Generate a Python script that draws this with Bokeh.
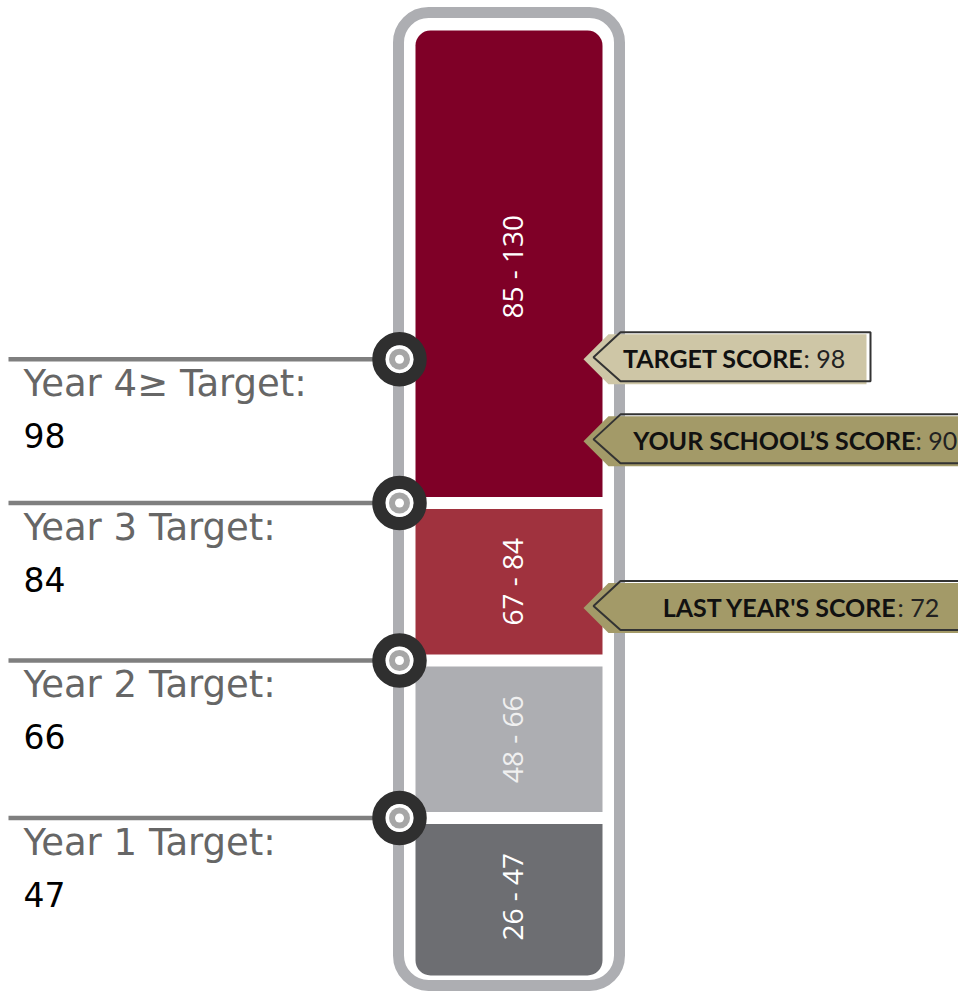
import numpy as np
from bokeh.plotting import figure
from bokeh.models import Range1d, ColumnDataSource
from bokeh.core.properties import value
from bokeh.embed import file_html
from bokeh.resources import INLINE

# ---------------- data ----------------
band_low = [26, 48, 67, 85]
band_high = [47, 66, 84, 130]
band_labels = ["26 - 47", "48 - 66", "67 - 84", "85 - 130"]
band_colors = ["#6d6e72", "#adaeb2", "#a0323e", "#7f0027"]
band_text_colors = ["#ffffff", "#f0f0f0", "#ffffff", "#ffffff"]
band_weight = [1, 1, 1, 3]          # visual height of each band

target_labels = ["Year 1 Target:", "Year 2 Target:", "Year 3 Target:", "Year 4\u2265 Target:"]
target_values = [47, 66, 84, 98]

score_names = ["TARGET SCORE", "YOUR SCHOOL\u2019S SCORE", "LAST YEAR'S SCORE"]
score_values = [98, 90, 72]
score_fills = ["#cec6a6", "#a39a68", "#a39a68"]

# ---------------- layout / scale ----------------
PX = 157.5                      # pixels per band unit
edge_score = [band_low[0]] + band_high
edge_unit = list(np.concatenate([[0], np.cumsum(band_weight)]))


def to_unit(s):
    return np.interp(s, edge_score, edge_unit)


def px(n):
    return n / PX


W, H = 958, 991
p = figure(width=W, height=H, x_range=Range1d(0, W),
           y_range=Range1d(-16 / PX, 975 / PX),
           x_axis_type=None, y_axis_type=None,
           output_backend="svg", toolbar_location=None, min_border=0)
p.grid.visible = False
p.outline_line_color = None
p.background_fill_color = "white"
p.border_fill_color = "white"

# outer frame
p.quad(left=[398], right=[619], top=[edge_unit[-1] + px(18)],
       bottom=[px(-10)], fill_color=None, line_color="#adaeb2", line_width=11,
       border_radius=30)

# bands
gap = px(6)
n = len(band_low)
for i in range(n):
    b = edge_unit[i] + (gap if i > 0 else 0)
    t = edge_unit[i + 1] - (gap if i < n - 1 else 0)
    if i == n - 1:
        br = (15, 15, 0, 0)
    elif i == 0:
        br = (0, 0, 15, 15)
    else:
        br = 0
    p.quad(left=[415], right=[602], bottom=[b], top=[t],
           fill_color=band_colors[i], line_color=None, border_radius=br)

band_src = ColumnDataSource(dict(
    x=[511] * n,
    y=[(edge_unit[i] + edge_unit[i + 1]) / 2 for i in range(n)],
    text=band_labels, color=band_text_colors))
p.text(x="x", y="y", text="text", source=band_src, angle=np.pi / 2,
       text_align="center", text_baseline="middle", text_color="color",
       text_font=value("Open Sans"), text_font_size="28px")

# target lines and markers
ty = [float(to_unit(v)) for v in target_values]
p.segment(x0=[8] * len(ty), x1=[399] * len(ty), y0=ty, y1=ty,
          line_color="#7f7f7f", line_width=4.5)
p.scatter(x=[399] * len(ty), y=ty, size=41, marker="circle",
          fill_color=None, line_color="#2f2f2f", line_width=13.5)
p.scatter(x=[399] * len(ty), y=ty, size=28, marker="circle",
          fill_color="white", line_color=None)
p.scatter(x=[399] * len(ty), y=ty, size=21, marker="circle",
          fill_color="#a6a6a6", line_color=None)
p.scatter(x=[399] * len(ty), y=ty, size=9, marker="circle",
          fill_color="white", line_color=None)

tgt_src = ColumnDataSource(dict(x=[23] * len(ty), y=ty, label=target_labels,
                                val=[str(v) for v in target_values]))
p.text(x="x", y="y", text="label", source=tgt_src, y_offset=24,
       text_baseline="alphabetic", text_align="left", text_color="#666666",
       text_font=value("DejaVu Sans"), text_font_size="37px")
p.text(x="x", y="y", text="val", source=tgt_src, y_offset=76,
       text_baseline="alphabetic", text_align="left", text_color="#000000",
       text_font=value("DejaVu Sans"), text_font_size="33px")

# score arrows
tip_x = 583
arrow_right = [866, 1000, 1000]
colon_x = [803, 915, 897]
h = px(25)
fx, fy, ox, oy = [], [], [], []
for i, v in enumerate(score_values):
    yc = float(to_unit(v))
    r = arrow_right[i]
    fx.append([tip_x, tip_x + 25, r, r, tip_x + 25])
    fy.append([yc, yc + h, yc + h, yc - h, yc - h])
    ox.append([tip_x + 10, tip_x + 37, r + 4, r + 4, tip_x + 37])
    oy.append([yc + px(2), yc + h + px(2), yc + h + px(2), yc - h + px(3), yc - h + px(3)])
p.patches(xs=fx, ys=fy, fill_color=score_fills, line_color=None)
p.patches(xs=ox, ys=oy, fill_color=None, line_color="#333333", line_width=2)

sc_src = ColumnDataSource(dict(x=colon_x, y=[float(to_unit(v)) for v in score_values],
                               name=score_names, val=[": %d" % v for v in score_values]))
p.text(x="x", y="y", text="name", source=sc_src, y_offset=-1,
       text_baseline="alphabetic", text_align="right", text_color="#111111",
       text_font=value("Lato"), text_font_style="bold", text_font_size="25px")
p.text(x="x", y="y", text="val", source=sc_src, y_offset=-1,
       text_baseline="alphabetic", text_align="left", text_color="#222222",
       text_font=value("Lato"), text_font_size="25px")

open("out.html", "w").write(file_html(p, INLINE))
